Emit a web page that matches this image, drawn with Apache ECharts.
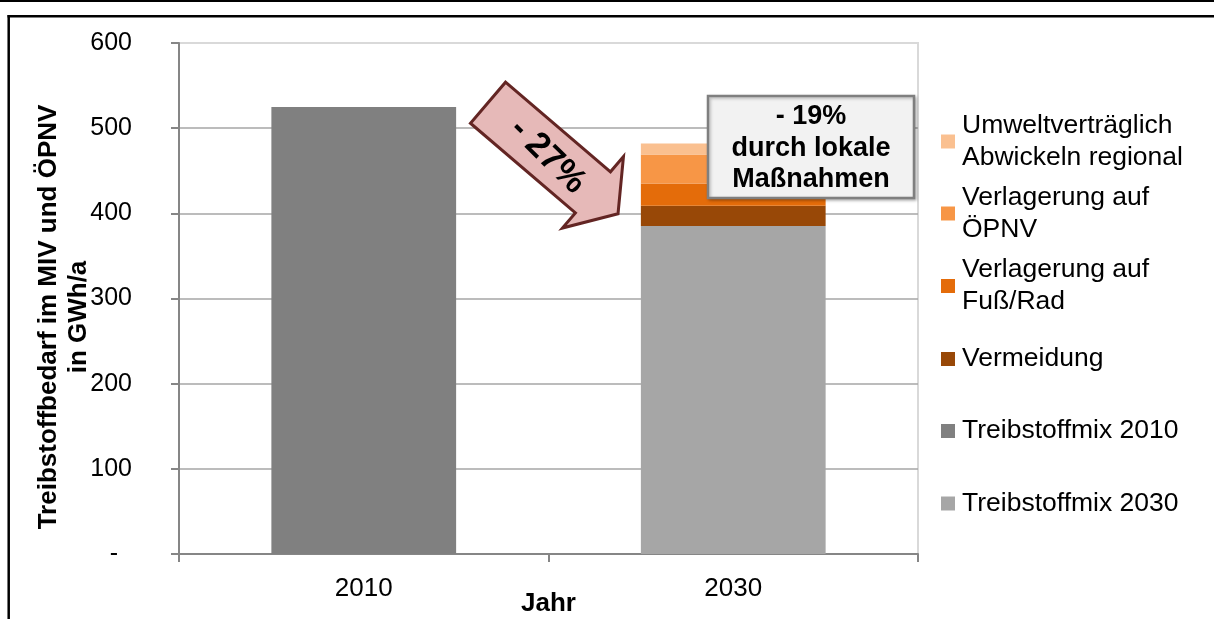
<!DOCTYPE html>
<html>
<head>
<meta charset="utf-8">
<script src="https://cdn.jsdelivr.net/npm/echarts@6/dist/echarts.min.js"></script>
<style>
  html, body { margin: 0; padding: 0; background: #ffffff; }
  #chart { width: 1214px; height: 619px; }
</style>
</head>
<body>
<div id="chart"></div>
<script>
// Fuel demand for motorised private transport and public transport (GWh/a)
const years = ['2010', '2030'];
const treibstoffmix2010 = [525, null];
const treibstoffmix2030 = [null, 385];
const vermeidung = [null, 24];
const verlagerungFussRad = [null, 26];
const verlagerungOepnv = [null, 34];
const umweltvertraeglich = [null, 13];

const yMin = 0;
const yMax = 600;
const yStep = 100;

const names = {
  mix2010: 'Treibstoffmix 2010',
  mix2030: 'Treibstoffmix 2030',
  verm: 'Vermeidung',
  fuss: 'Verlagerung auf\nFuß/Rad',
  oepnv: 'Verlagerung auf\nÖPNV',
  umwelt: 'Umweltverträglich\nAbwickeln regional'
};

const colors = {
  mix2010: '#808080',
  mix2030: '#a6a6a6',
  verm: '#984807',
  fuss: '#e46c0a',
  oepnv: '#f79646',
  umwelt: '#fac090'
};

const FONT = '"Liberation Sans", Arial, sans-serif';
const LEG_LH = 32;

// one legend block per entry so each row sits at its own height
function legendEntry(name, iconCenterY, twoLines) {
  const top = twoLines ? iconCenterY - (LEG_LH * 3) / 2 : iconCenterY - LEG_LH / 2;
  return {
    data: [name],
    left: 941,
    top: top,
    orient: 'vertical',
    padding: 0,
    itemWidth: 14,
    itemHeight: 14,
    icon: 'rect',
    selectedMode: false,
    textStyle: {
      fontFamily: FONT,
      fontSize: 26.5,
      color: '#000000',
      lineHeight: LEG_LH,
      padding: twoLines ? [LEG_LH, 0, 0, 2] : [0, 0, 0, 2]
    }
  };
}

function barSeries(key, data) {
  return {
    name: names[key],
    type: 'bar',
    stack: 'total',
    barWidth: '50%',
    data: data,
    itemStyle: { color: colors[key] },
    emphasis: { disabled: true }
  };
}

// arrow outline in its own frame: x runs along the arrow, y across it
const arrowPoints = [[0, -27], [138, -27], [138, -47], [171, 0], [138, 47], [138, 27], [0, 27]];
const arrowAngle = -40.5 * Math.PI / 180;

const chart = echarts.init(document.getElementById('chart'), null, { renderer: 'canvas' });

chart.setOption({
  animation: false,
  backgroundColor: '#ffffff',
  grid: {
    left: 179,
    right: 296,
    top: 43,
    bottom: 65,
    containLabel: false,
    outerBoundsMode: 'none',
    show: true,
    borderColor: '#d9d9d9',
    borderWidth: 2,
    backgroundColor: 'transparent'
  },
  legend: [
    legendEntry(names.umwelt, 141.5, true),
    legendEntry(names.oepnv, 213.5, true),
    legendEntry(names.fuss, 286, true),
    legendEntry(names.verm, 359, false),
    legendEntry(names.mix2010, 431, false),
    legendEntry(names.mix2030, 503.5, false)
  ],
  xAxis: {
    type: 'category',
    data: years,
    boundaryGap: true,
    name: 'Jahr',
    nameLocation: 'middle',
    nameGap: 37,
    nameMoveOverlap: false,
    nameTextStyle: { fontFamily: FONT, fontSize: 26, fontWeight: 'bold', color: '#000000' },
    axisLine: { lineStyle: { color: '#868686', width: 2 } },
    axisTick: { show: true, length: 8, lineStyle: { color: '#868686', width: 2 } },
    axisLabel: { fontFamily: FONT, fontSize: 26, color: '#000000', margin: 22 },
    splitLine: { show: false }
  },
  yAxis: {
    type: 'value',
    min: yMin,
    max: yMax,
    interval: yStep,
    axisLine: { show: true, lineStyle: { color: '#868686', width: 2 } },
    axisTick: { show: true, length: 8, lineStyle: { color: '#868686', width: 2 } },
    axisLabel: {
      fontFamily: FONT,
      fontSize: 25,
      color: '#000000',
      margin: 47,
      formatter: function (v) { return v === 0 ? '{z|-}' : String(v); },
      rich: { z: { fontFamily: FONT, fontSize: 25, color: '#000000', padding: [0, 14, 0, 0] } }
    },
    splitLine: {
      show: true,
      lineStyle: {
        color: ['#a6a6a6', '#a6a6a6', '#a6a6a6', '#a6a6a6', '#a6a6a6', '#a6a6a6', '#d9d9d9'],
        width: 1.5
      }
    }
  },
  series: [
    barSeries('mix2010', treibstoffmix2010),
    barSeries('mix2030', treibstoffmix2030),
    barSeries('verm', vermeidung),
    barSeries('fuss', verlagerungFussRad),
    barSeries('oepnv', verlagerungOepnv),
    barSeries('umwelt', umweltvertraeglich)
  ],
  graphic: [
    // page rule and frame
    { type: 'line', z: 100, shape: { x1: 0, y1: 1, x2: 1214, y2: 1 }, style: { stroke: '#000000', lineWidth: 2 } },
    { type: 'line', z: 100, shape: { x1: 7.5, y1: 16.2, x2: 1214, y2: 16.2 }, style: { stroke: '#000000', lineWidth: 2.5 } },
    { type: 'line', z: 100, shape: { x1: 8.7, y1: 15, x2: 8.7, y2: 619 }, style: { stroke: '#000000', lineWidth: 2.5 } },
    // y axis title
    {
      type: 'text',
      z: 100,
      x: 64,
      y: 317,
      rotation: Math.PI / 2,
      style: {
        text: 'Treibstoffbedarf im MIV und ÖPNV\nin GWh/a',
        font: 'bold 26px ' + FONT,
        fill: '#000000',
        align: 'center',
        verticalAlign: 'middle',
        lineHeight: 30
      }
    },
    // reduction arrow
    {
      type: 'group',
      z: 100,
      x: 488,
      y: 102.7,
      rotation: arrowAngle,
      children: [
        {
          type: 'polygon',
          z: 100,
          shape: { points: arrowPoints },
          style: { fill: '#e6b9b8', stroke: '#632523', lineWidth: 3, lineJoin: 'miter' }
        },
        {
          type: 'text',
          z: 101,
          x: 80,
          y: 2,
          rotation: -4 * Math.PI / 180,
          style: {
            text: '- 27%',
            font: 'bold 35px ' + FONT,
            fill: '#000000',
            align: 'center',
            verticalAlign: 'middle'
          }
        }
      ]
    },
    // local measures box
    {
      type: 'rect',
      z: 100,
      shape: { x: 708, y: 96, width: 206, height: 102 },
      style: {
        fill: '#f2f2f2',
        stroke: '#7f7f7f',
        lineWidth: 2.5,
        shadowBlur: 3,
        shadowOffsetX: 1.5,
        shadowOffsetY: 1.5,
        shadowColor: 'rgba(0,0,0,0.25)'
      }
    },
    {
      type: 'text',
      z: 101,
      x: 811,
      y: 148.5,
      style: {
        text: '- 19%\ndurch lokale\nMaßnahmen',
        font: 'bold 27px ' + FONT,
        fill: '#000000',
        align: 'center',
        verticalAlign: 'middle',
        lineHeight: 31.5
      }
    }
  ]
});
</script>
</body>
</html>
